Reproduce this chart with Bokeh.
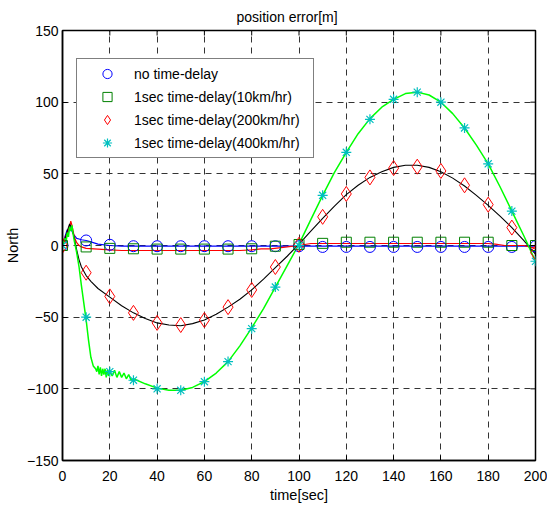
import math
from bokeh.plotting import figure
from bokeh.models import Range1d, FixedTicker, Legend, LegendItem
from bokeh.embed import file_html
from bokeh.resources import INLINE

# ---------------- data ----------------
# sampled marker times (every 10 sec)
t_mark = [0, 10, 20, 30, 40, 50, 60, 70, 80, 90, 100, 110, 120, 130, 140, 150, 160, 170, 180, 190, 200]

# no time-delay (blue)
nodelay_mark = [0, 3.5, 0.5, -0.5, -0.5, -0.5, -0.5, -0.5, -0.5, -0.5, -0.5, -1, -1, -1, -1, -1, -1, -1, -1, -1, -0.5]
t_nodelay = [0, 1, 2, 2.5, 3, 3.5, 4, 5, 6, 7, 8, 10, 12, 15, 20, 25, 200]
nodelay = [0, 6, 11, 9, 14, 12, 10, 7, 5, 4.5, 4, 3.5, 2.5, 1, 0, -0.5, -0.5]

# 1sec time-delay (10km/hr)
d10_mark = [0, -1, -2, -2.3, -2.5, -2.5, -2.5, -2.5, -2.3, -0.5, 0.7, 1.5, 2.3, 2.3, 2.3, 2.3, 2.3, 2.3, 2.3, 0, 0]
t_d10 = [0, 1, 2, 3, 3.5, 4, 4.5, 5, 6, 7, 8, 10, 15, 20, 25, 30, 75, 80, 84, 88, 95, 100, 105, 180, 183, 187, 195, 200]
d10 = [0, 5, 9, 13, 17, 14, 10, 6, 2, 0, -1, -2, -2.5, -3, -3.5, -3.5, -3.5, -3, -2.3, -2.3, -1, 0, 1.4, 1.4, 1, 0, 0, -2]

# 1sec time-delay (200km/hr)
d200_mark = [0, -19, -35.5, -47, -54, -55.5, -52, -43, -31, -15, 0.5, 20, 36, 47.5, 54, 55, 52, 42, 28.5, 12.5, -5]
t_d200 = [0, 1, 2, 3, 4, 5, 6, 7, 8, 10, 12, 15, 20, 25, 30, 35, 40, 45, 50, 55, 60, 65, 70, 75, 80,
          85, 90, 95, 100, 105, 110, 115, 120, 125, 130, 135, 140, 145, 150, 155, 160, 165, 170, 175,
          180, 185, 190, 195, 200]
d200 = [0, 4, 10, 15, 12, 5, -3, -10, -15, -21, -25, -30, -36, -42, -47, -51, -54, -55.5, -56, -54.5,
        -52, -48, -43, -37.5, -31, -23.5, -15.5, -7.5, 1, 10, 19, 27.5, 35.5, 42, 47.5, 51.5, 54.5,
        56, 56, 54.5, 51.5, 47, 41.5, 35, 28, 20.5, 12.5, 3.5, -6]

# 1sec time-delay (400km/hr)
d400_mark = [0, -50, -88, -94, -100, -101, -95, -81, -58, -29, 0, 35, 65, 88, 102, 107, 100, 82, 57, 24, -11]
t_d400 = [0, 1, 1.5, 2, 2.5, 3, 3.5, 4, 4.5, 5, 6, 7, 8, 9, 10, 11, 12, 13, 14, 14.5, 15, 15.5, 16,
          16.5, 17, 17.5, 18, 18.5, 19, 19.5, 20, 21, 22, 23, 24, 25, 26, 27, 28, 29, 30, 35, 40, 45,
          50, 55, 60, 65, 70, 75, 80, 85, 90, 95, 100, 105, 110, 115, 120, 125, 130, 135, 140, 145,
          150, 155, 160, 165, 170, 175, 180, 185, 190, 195, 200]
d400 = [0, 5, 2, 9, 6, 13, 10, 14, 8, 3, -5, -15, -28, -40, -52, -66, -78, -84, -86, -88, -84, -90,
        -85, -91, -86, -90, -86, -92, -87, -91, -88, -91, -87, -92, -88, -92, -89, -93, -90, -94, -93,
        -96.5, -99.5, -101, -101, -99, -95, -89, -81, -70, -57.5, -44, -29, -14, 1, 18, 35, 51, 65, 78,
        88.5, 96.5, 102, 106, 107, 105, 100, 92, 82, 70, 57, 41, 24, 7, -11]

labels = ["no time-delay", "1sec time-delay(10km/hr)",
          "1sec time-delay(200km/hr)", "1sec time-delay(400km/hr)"]

x_ticks = [0, 20, 40, 60, 80, 100, 120, 140, 160, 180, 200]
y_ticks = [-150, -100, -50, 0, 50, 100, 150]
x_lim = (0, 200)
y_lim = (-150, 150)

# ---------------- figure ----------------
FONT = "Liberation Sans"
p = figure(frame_width=473, frame_height=430,
           x_range=Range1d(*x_lim), y_range=Range1d(*y_lim),
           output_backend="svg", toolbar_location=None,
           min_border_left=62, min_border_right=12, min_border_top=30, min_border_bottom=50)
p.background_fill_color = "white"
p.border_fill_color = "white"
p.outline_line_color = "black"
p.outline_line_width = 1.5

p.title.text = "position error[m]"
p.title.align = "left"
p.title.offset = 174
p.title.text_font = FONT
p.title.text_font_size = "14px"
p.title.text_font_style = "normal"
p.title.text_color = "black"
p.title.standoff = 11

for ax in (p.xaxis[0], p.yaxis[0]):
    ax.major_tick_in = 5
    ax.major_tick_out = 0
    ax.minor_tick_line_color = None
    ax.axis_line_width = 1.5
    ax.axis_line_color = "black"
    ax.major_tick_line_color = "black"
    ax.major_label_text_font = FONT
    ax.major_label_text_font_size = "14px"
    ax.major_label_text_color = "black"
    ax.axis_label_text_font = FONT
    ax.axis_label_text_font_size = "14.5px"
    ax.axis_label_text_font_style = "normal"
    ax.axis_label_text_color = "black"

p.xaxis[0].ticker = FixedTicker(ticks=x_ticks)
p.yaxis[0].ticker = FixedTicker(ticks=y_ticks)
p.xaxis[0].axis_label = "time[sec]"
p.yaxis[0].axis_label = "North"
p.xaxis[0].major_label_standoff = 10
p.yaxis[0].major_label_standoff = 4
p.xaxis[0].axis_label_standoff = 3
p.yaxis[0].axis_label_standoff = 3

for g, tk in ((p.xgrid[0], x_ticks), (p.ygrid[0], y_ticks)):
    g.ticker = FixedTicker(ticks=tk)
    g.grid_line_color = "#333333"
    g.grid_line_dash = "6 5"
    g.grid_line_width = 1

# lines
p.line(t_nodelay, nodelay, line_color="#0000ff", line_width=1.2)
p.line(t_d10, d10, line_color="#ff0000", line_width=1.2)
p.line(t_d200, d200, line_color="black", line_width=1.1)
p.line(t_d400, d400, line_color="#00ff00", line_width=1.5)

# markers
r1 = p.scatter(t_mark, nodelay_mark, marker="circle", size=11, fill_color=None,
               line_color="#0000ff", line_width=1)
r2 = p.scatter(t_mark, d10_mark, marker="square", size=10, fill_color=None,
               line_color="#008000", line_width=1)
r3 = p.scatter(t_mark, d200_mark, marker="diamond", size=15, fill_color=None,
               line_color="#ff0000", line_width=1)
r4 = p.scatter(t_mark, d400_mark, marker="asterisk", size=10, fill_color=None,
               line_color="#00bfbf", line_width=1.2)

# inward tick marks on the top and right edges (half of each dash is clipped by the frame)
p.scatter(x_ticks, [y_lim[1]] * len(x_ticks), marker="dash", size=10, angle=math.pi / 2,
          line_color="black", line_width=1)
p.scatter([x_lim[1]] * len(y_ticks), y_ticks, marker="dash", size=10,
          line_color="black", line_width=1)

legend = Legend(items=[LegendItem(label=l, renderers=[r]) for l, r in zip(labels, [r1, r2, r3, r4])],
                location=(14, 302))
legend.border_line_color = "black"
legend.border_line_width = 1
legend.background_fill_color = "white"
legend.background_fill_alpha = 1
legend.padding = 3
legend.spacing = 0
legend.margin = 0
legend.glyph_width = 54
legend.glyph_height = 23
legend.label_height = 23
legend.label_width = 176
legend.label_standoff = 0
legend.label_text_font = FONT
legend.label_text_font_size = "14px"
legend.label_text_color = "black"
p.add_layout(legend)

open("out.html", "w").write(file_html(p, INLINE))
